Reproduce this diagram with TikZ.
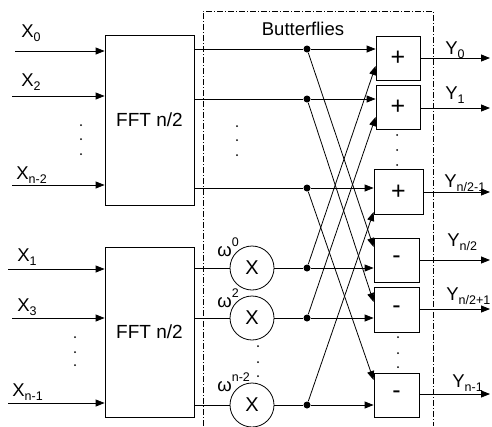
\documentclass[tikz,border=0pt]{standalone}
\usepackage{fontspec}
\setmainfont{Liberation Sans}
\usetikzlibrary{arrows.meta,calc}
\newcommand{\mysb}[1]{\raisebox{-0.35ex}{\fontsize{12.5}{12.5}\selectfont #1}}
\newcommand{\mysp}[1]{\raisebox{1.0ex}{\fontsize{12.5}{12.5}\selectfont #1}}
\begin{document}
\begin{tikzpicture}[x=1pt,y=-1pt,
  line width=0.8pt,
  arr/.style={-{Triangle[length=9pt,width=7pt]}},
  fftbox/.style={draw,minimum width=89pt,minimum height=170pt,inner sep=0pt,font=\fontsize{19}{22}\selectfont},
  opbox/.style={draw,minimum width=44pt,minimum height=44pt,inner sep=0pt,font=\fontsize{25}{25}\selectfont},
  mulc/.style={draw,circle,minimum size=44pt,inner sep=0pt,font=\fontsize{20}{22}\selectfont},
  lbl/.style={anchor=west,inner sep=0pt,font=\fontsize{18.5}{22}\selectfont},
  junc/.style={circle,fill,minimum size=7pt,inner sep=0pt},
  tdot/.style={circle,fill,minimum size=2pt,inner sep=0pt},
  frame/.style={dash pattern=on 6pt off 2pt on 1pt off 2pt,line width=0.6pt}]
\useasboundingbox (0,0) rectangle (492,426);
% frame
\draw[frame] (203,426) -- (203,11) -- (433,11) -- (433,426);
\node[lbl,anchor=center] (bfl) at (303,29) {Butterflies};
% FFT blocks
\node[fftbox] (f1) at (149.5,120) {FFT n/2};
\node[fftbox] (f2) at (149.5,332) {FFT n/2};
% inputs
\coordinate (i0) at (15,51);
\coordinate (i2) at (12,96);
\coordinate (in2) at (12,185);
\coordinate (i1) at (8,269);
\coordinate (i3) at (12,318);
\coordinate (in1) at (8,403);
\draw[arr] (i0) -- (i0 -| f1.west);
\draw[arr] (i2) -- (i2 -| f1.west);
\draw[arr] (in2) -- (in2 -| f1.west);
\draw[arr] (i1) -- (i1 -| f2.west);
\draw[arr] (i3) -- (i3 -| f2.west);
\draw[arr] (in1) -- (in1 -| f2.west);
\node[lbl] (lx0) at (21,33) {X\mysb{0}};
\node[lbl] (lx2) at (21,82) {X\mysb{2}};
\node[lbl] (lxn2) at (16,175) {X\mysb{n-2}};
\node[lbl] (lx1) at (17,257) {X\mysb{1}};
\node[lbl] (lx3) at (17,307) {X\mysb{3}};
\node[lbl] (lxn1) at (12,392) {X\mysb{n-1}};
% multipliers
\node[mulc] (c1) at (252,268) {X};
\node[mulc] (c2) at (252,318) {X};
\node[mulc] (c3) at (252,405) {X};
\node[lbl] (w0) at (217,247) {ω\mysp{0}};
\node[lbl] (w2) at (217,298) {ω\mysp{2}};
\node[lbl] (wn) at (217,382) {ω\mysp{n-2}};
% junctions
\node[junc] (d1) at (307,49) {};
\node[junc] (d2) at (307,99) {};
\node[junc] (d3) at (307,188) {};
\node[junc] (d4) at (307,268) {};
\node[junc] (d5) at (307,318) {};
\node[junc] (d6) at (307,405) {};
% op boxes
\node[opbox] (b1) at (398,58) {+};
\node[opbox] (b2) at (398,107) {+};
\node[opbox,minimum width=49pt,minimum height=45pt] (b3) at (398.5,192) {+};
\node[opbox,minimum width=45pt] (b4) at (396.5,260) {-};
\node[opbox,minimum width=45pt,minimum height=45pt] (b5) at (396.5,309.5) {-};
\node[opbox,minimum width=45pt] (b6) at (396.5,395) {-};
% FFT outputs
\draw (d1 -| f1.east) -- (d1);
\draw (d2 -| f1.east) -- (d2);
\draw (d3 -| f1.east) -- (d3);
\draw (c1.west -| f2.east) -- (c1.west);
\draw (c2.west -| f2.east) -- (c2.west);
\draw (c3.west -| f2.east) -- (c3.west);
\draw (c1.east) -- (d4);
\draw (c2.east) -- (d5);
\draw (c3.east) -- (d6);
% straight into boxes
\draw[arr] (d1) -- (d1 -| b1.west);
\draw[arr] (d2) -- (d2 -| b2.west);
\draw[arr] (d3) -- (d3 -| b3.west);
\draw[arr] (d4) -- (d4 -| b4.west);
\draw[arr] (d5) -- (d5 -| b5.west);
\draw[arr] (d6) -- (d6 -| b6.west);
% crossings
\draw[arr] (d1) -- ([yshift=13pt]b4.west);
\draw[arr] (d2) -- ([yshift=7.5pt]b5.west);
\draw[arr] (d3) -- ([yshift=15pt]b6.west);
\draw[arr] (d4) -- ([yshift=-8pt]b1.west);
\draw[arr] (d5) -- ([yshift=-10pt]b2.west);
\draw[arr] (d6) -- ([yshift=-20pt]b3.west);
% outputs
\coordinate (o0) at (490,58);
\coordinate (o1) at (490,108);
\coordinate (o2) at (490,192);
\coordinate (o3) at (490,260);
\coordinate (o4) at (490,309);
\coordinate (o5) at (490,394);
\draw[arr] (b1.east |- o0) -- (o0);
\draw[arr] (b2.east |- o1) -- (o1);
\draw[arr] (b3.east |- o2) -- (o2);
\draw[arr] (b4.east |- o3) -- (o3);
\draw[arr] (b5.east |- o4) -- (o4);
\draw[arr] (b6.east |- o5) -- (o5);
\node[lbl] (ly0) at (445,50) {Y\mysb{0}};
\node[lbl] (ly1) at (445,95) {Y\mysb{1}};
\node[lbl] (ly2) at (444,183) {Y\mysb{n/2-1}};
\node[lbl] (ly3) at (447,242) {Y\mysb{n/2}};
\node[lbl] (ly4) at (446,296) {Y\mysb{n/2+1}};
\node[lbl] (ly5) at (452,383) {Y\mysb{n-1}};
% ellipsis dots
\foreach \px/\py/\nm in {81/125/a1,81/139/a2,81/154/a3,
  237/126/b1,237/140/b2,237/155/b3,
  75/337/c1,75/352/c2,75/365/c3,
  258/346/e1,258/362/e2,258/376/e3,
  397/135/g1,397/150/g2,397/165/g3,
  398/337/h1,398/353/h2,398/367/h3}
  \node[tdot] (p\nm) at (\px,\py) {};
\end{tikzpicture}
\end{document}
